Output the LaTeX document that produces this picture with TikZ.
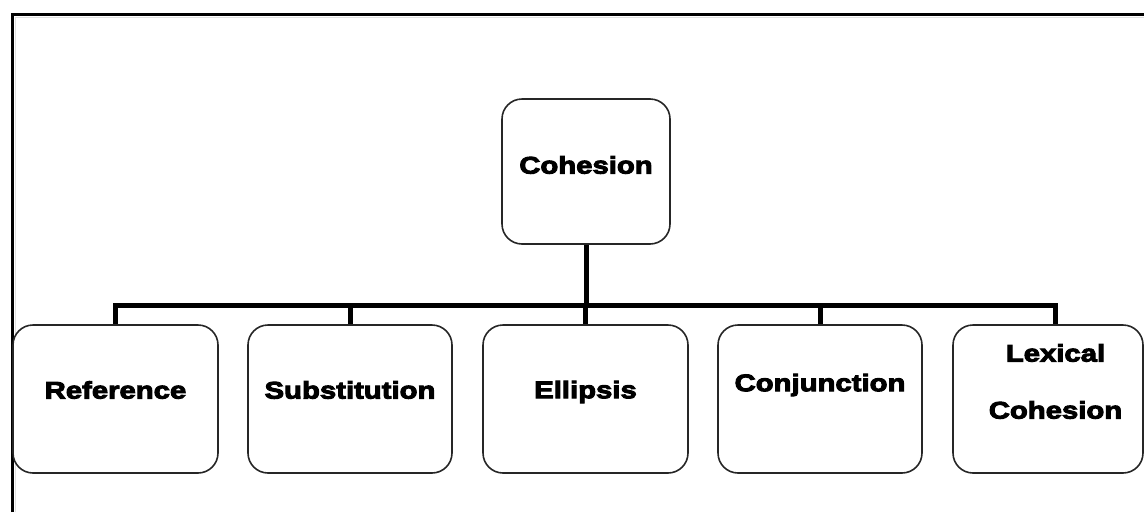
\documentclass[tikz,border=0pt]{standalone}
\usepackage{fontspec}
\newfontfamily\boxfont[FakeStretch=1.22,FakeBold=4]{Liberation Sans Bold}
\tikzset{
  box/.style={draw=black!85, line width=1.6pt, rounded corners=20pt, fill=white, inner sep=0pt},
  lbl/.style={font=\boxfont\fontsize{24}{29}\selectfont, inner sep=0pt, align=center},
  conn/.style={draw=black, line width=5pt},
  frame/.style={draw=black, line width=3pt}
}
\begin{document}
\begin{tikzpicture}[x=1pt,y=-1pt]
\useasboundingbox (0,0) rectangle (1144,512);
% outer frame (only left and top visible)
\draw[black!12, line width=1.5pt] (15.5,512) -- (15.5,17.5) -- (1144,17.5);
\draw[frame] (12,512) -- (12,14) -- (1144,14);
% boxes
\node[box, minimum width=168pt, minimum height=145pt] (coh) at (586,171.5) {};
\node[box, minimum width=205pt, minimum height=148pt] (ref) at (115.5,399) {};
\node[box, minimum width=204pt, minimum height=148pt] (sub) at (350,399) {};
\node[box, minimum width=205pt, minimum height=148pt] (ell) at (585.5,399) {};
\node[box, minimum width=204pt, minimum height=148pt] (con) at (820,399) {};
\node[box, minimum width=190pt, minimum height=148pt] (lex) at (1048,399) {};
% labels
\node[lbl] (cohT) at (586,165) {Cohesion};
\node[lbl] (refT) at (115.5,390) {Reference};
\node[lbl] (subT) at (350,390) {Substitution};
\node[lbl] (ellT) at (585.5,392) {Ellipsis};
\node[lbl] (conT) at (820,385) {Conjunction};
\node[lbl] (lexT1) at (1055.5,353) {Lexical};
\node[lbl] (lexT2) at (1055.5,410) {Cohesion};
% connectors
\coordinate (bus) at (586,305);
\coordinate (busL) at (115.5,305);
\coordinate (busR) at (1055,305);
\draw[conn] (coh.south) -- (bus);
\draw[conn, line cap=rect] (busL) -- (busR);
\draw[conn] (busL) -- (ref.north -| busL);
\draw[conn] (sub.north |- bus) -- (sub.north);
\draw[conn] (ell.north |- bus) -- (ell.north);
\draw[conn] (con.north |- bus) -- (con.north);
\draw[conn] (busR) -- (busR |- lex.north);
\end{tikzpicture}
\end{document}
